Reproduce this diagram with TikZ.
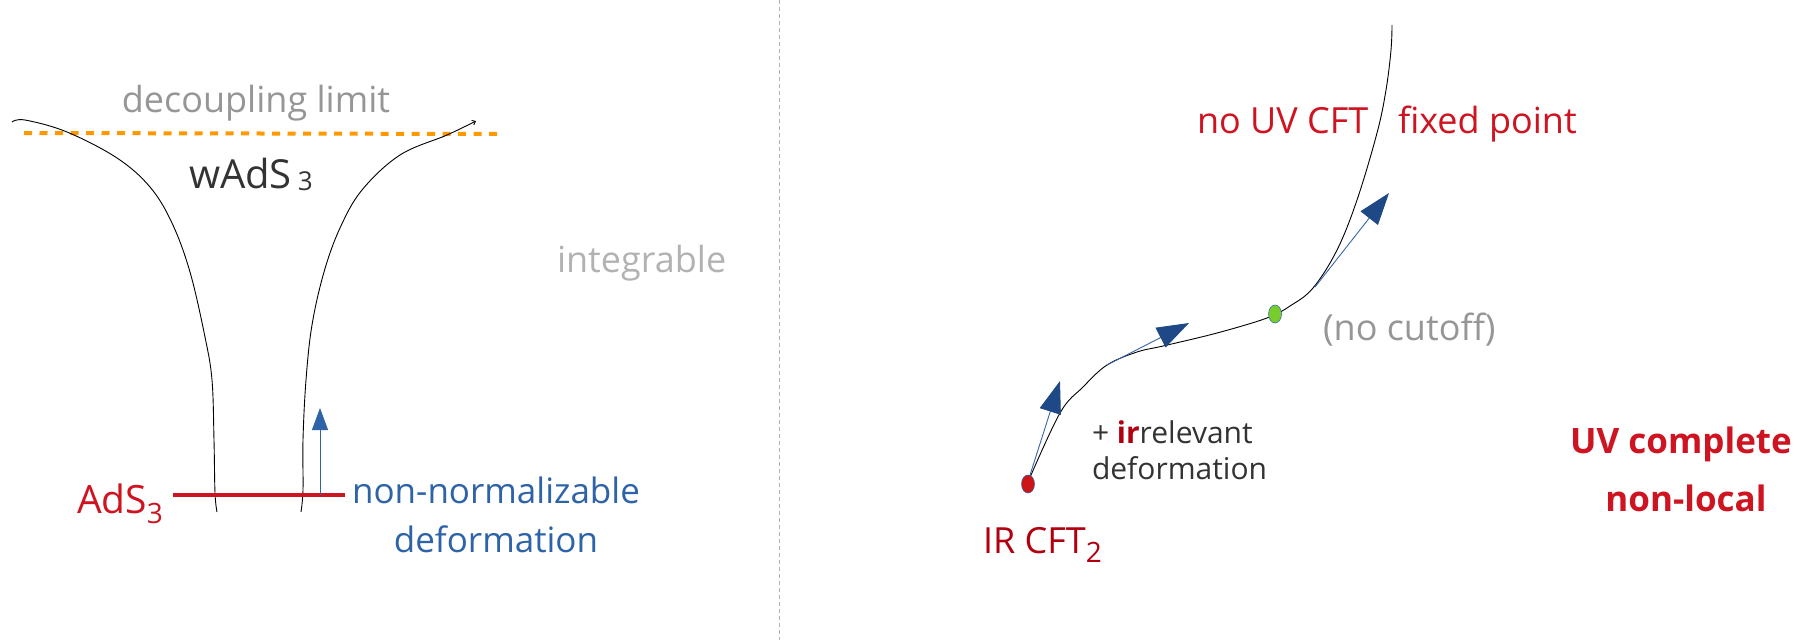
\documentclass[tikz,border=0pt]{standalone}
\usepackage{fontspec}
\setmainfont{Open Sans}
\usetikzlibrary{arrows.meta,shapes.geometric}
\definecolor{limitgray}{RGB}{150,150,150}
\definecolor{softgray}{RGB}{178,178,178}
\definecolor{inkdark}{RGB}{51,51,51}
\definecolor{adsred}{RGB}{206,20,32}
\definecolor{irred}{RGB}{176,0,16}
\definecolor{defblue}{RGB}{46,99,168}
\definecolor{headblue}{RGB}{31,73,134}
\definecolor{shaftblue}{RGB}{55,100,170}
\definecolor{limitorange}{RGB}{255,153,0}
\definecolor{dotgreen}{RGB}{120,205,45}
\definecolor{dotred}{RGB}{205,20,25}
\newcommand\fsz[1]{\fontsize{#1pt}{#1pt}\selectfont}
\begin{document}
\begin{tikzpicture}[x=1pt,y=-1pt,
  lbl/.style={inner sep=0pt,outer sep=0pt,anchor=base west},
  lblc/.style={inner sep=0pt,outer sep=0pt,anchor=base},
  thinline/.style={draw=black,line width=0.9pt},
  flow/.style={draw=shaftblue,line width=0.9pt,-{Triangle[length=32pt,width=22pt,fill=headblue,color=headblue]}},
  flowsmall/.style={draw=defblue,line width=1pt,-{Triangle[length=22pt,width=16pt,fill=defblue]}},
  fixdot/.style={ellipse,draw=defblue,line width=0.5pt,minimum width=13pt,minimum height=18pt,inner sep=0pt}]
\useasboundingbox (0,0) rectangle (1809,640);

% separator between the two panels
\coordinate (septop) at (779,0);
\coordinate (sepbot) at (779,640);
\draw[softgray,line width=0.8pt,dash pattern=on 4pt off 3pt] (septop) -- (sepbot);

% ---------- left panel: the throat ----------
\coordinate (dlA) at (24,133);
\coordinate (dlB) at (500,134);
\draw[limitorange,line width=4pt,dash pattern=on 8pt off 7.5pt] (dlA) -- (dlB);

\draw[thinline] plot[smooth,tension=0.6] coordinates
  {(12,122) (25,120) (67,132) (117,158) (150,187) (172,223) (190,272) (205,337) (212,380) (214,440) (215,493) (217,512)};
\draw[thinline,-{Straight Barb[length=3pt,width=5pt]}] plot[smooth,tension=0.6] coordinates
  {(301,512) (303,490) (303,440) (306,380) (312,325) (324,272) (340,228) (362,190) (400,155) (447,135) (476,121)};

\node[lblc,text=limitgray,font=\fsz{36}] (declim) at (256,112) {decoupling limit};
\node[lbl,text=inkdark,font=\fsz{40}] (wads) at (189,188) {wAdS\hspace{6pt}\raisebox{-2pt}{\fsz{26}3}};
\node[lbl,text=softgray,font=\fsz{36}] (integ) at (557,272) {integrable};

\coordinate (adsL) at (173,495);
\coordinate (adsR) at (345,495);
\draw[adsred,line width=4pt] (adsL) -- (adsR);
\node[lbl,text=adsred,font=\fsz{39}] (ads) at (77,513) {AdS\raisebox{-10pt}{\fsz{28}3}};

\coordinate (nnfoot) at (320,495);
\coordinate (nntip) at (320,408);
\draw[flowsmall] (nnfoot) -- (nntip);
\node[lblc,text=defblue,font=\fsz{35}] (nn1) at (496,503) {non-normalizable};
\node[lblc,text=defblue,font=\fsz{35}] (nn2) at (496,552) {deformation};

% ---------- right panel: the flow ----------
\draw[thinline] plot[smooth,tension=0.6] coordinates
  {(1028,482) (1060,413) (1083,387) (1107,365) (1137,352) (1163,346) (1217,333) (1267,318) (1290,306) (1313,288) (1337,250) (1357,200) (1377,133) (1386,90) (1391,50) (1392,25)};

\coordinate (f1s) at (1030,475);
\coordinate (f1t) at (1060,381);
\coordinate (f2s) at (1107,365);
\coordinate (f2t) at (1189,323);
\coordinate (f3s) at (1315,287);
\coordinate (f3t) at (1389,193);
\draw[flow] (f1s) -- (f1t);
\draw[flow] (f2s) -- (f2t);
\draw[flow] (f3s) -- (f3t);

\node[fixdot,fill=dotred] (irdot) at (1028,484) {};
\node[fixdot,fill=dotgreen] (middot) at (1275,314) {};

\node[lbl,text=adsred,font=\fsz{36}] (nouv) at (1197,133) {no UV CFT};
\node[lbl,text=adsred,font=\fsz{36}] (fixp) at (1398,133) {fixed point};
\node[lbl,text=limitgray,font=\fsz{36}] (nocut) at (1323,340) {(no cutoff)};
\node[lbl,text=inkdark,font=\fsz{30}] (irr1) at (1092,443) {+ \textcolor{irred}{\textbf{ir}}relevant};
\node[lbl,text=inkdark,font=\fsz{30}] (irr2) at (1092,479) {deformation};
\node[lbl,text=irred,font=\fsz{36}] (ircft) at (983,553) {IR CFT\raisebox{-9pt}{\fsz{28}2}};
\node[lblc,text=adsred,font=\bfseries\fsz{35}] (uvc1) at (1681,453) {UV complete};
\node[lblc,text=adsred,font=\bfseries\fsz{35}] (uvc2) at (1686,511) {non-local};
\end{tikzpicture}
\end{document}
